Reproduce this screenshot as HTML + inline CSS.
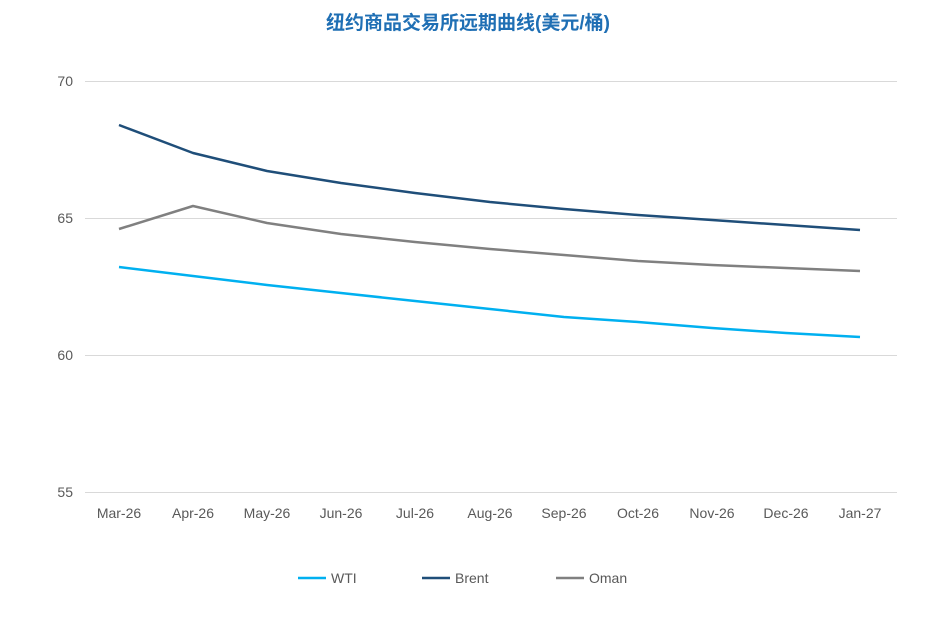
<!DOCTYPE html>
<html><head><meta charset="utf-8"><style>
body{margin:0;background:#fff;width:937px;height:634px;overflow:hidden}
text{font-family:"Liberation Sans","Noto Sans CJK SC",sans-serif}
</style></head><body>
<svg width="937" height="634" xmlns="http://www.w3.org/2000/svg">
<text x="468" y="29" text-anchor="middle" font-size="19" font-weight="bold" fill="#1f6fb4">纽约商品交易所远期曲线(美元/桶)</text>
<g stroke="#d9d9d9" stroke-width="1">
<line x1="85" y1="81.5" x2="897" y2="81.5"/>
<line x1="85" y1="218.5" x2="897" y2="218.5"/>
<line x1="85" y1="355.5" x2="897" y2="355.5"/>
<line x1="85" y1="492.5" x2="897" y2="492.5"/>
</g>
<g font-size="14" fill="#595959" text-anchor="end">
<text x="73" y="86">70</text><text x="73" y="223">65</text><text x="73" y="360">60</text><text x="73" y="497">55</text>
</g>
<g font-size="14" fill="#595959" text-anchor="middle">
<text x="119" y="518">Mar-26</text><text x="193" y="518">Apr-26</text><text x="267" y="518">May-26</text><text x="341" y="518">Jun-26</text><text x="415" y="518">Jul-26</text><text x="490" y="518">Aug-26</text><text x="564" y="518">Sep-26</text><text x="638" y="518">Oct-26</text><text x="712" y="518">Nov-26</text><text x="786" y="518">Dec-26</text><text x="860" y="518">Jan-27</text>
</g>
<g fill="none" stroke-width="2.5" stroke-linejoin="round">
<polyline stroke="#1f4e79" points="119,125 193,153 267,171 341,183 415,193 490,202 564,209 638,215 712,220 786,225 860,230"/>
<polyline stroke="#808080" points="119,229 193,206 267,223 341,234 415,242 490,249 564,255 638,261 712,265 786,268 860,271"/>
<polyline stroke="#00b0f0" points="119,267 193,276 267,285 341,293 415,301 490,309 564,317 638,322 712,328 786,333 860,337"/>
</g>
<g stroke-width="2.5">
<line x1="298" y1="578" x2="326" y2="578" stroke="#00b0f0"/>
<line x1="422" y1="578" x2="450" y2="578" stroke="#1f4e79"/>
<line x1="556" y1="578" x2="584" y2="578" stroke="#808080"/>
</g>
<g font-size="14" fill="#595959">
<text x="331" y="583">WTI</text><text x="455" y="583">Brent</text><text x="589" y="583">Oman</text>
</g>
</svg>
</body></html>
